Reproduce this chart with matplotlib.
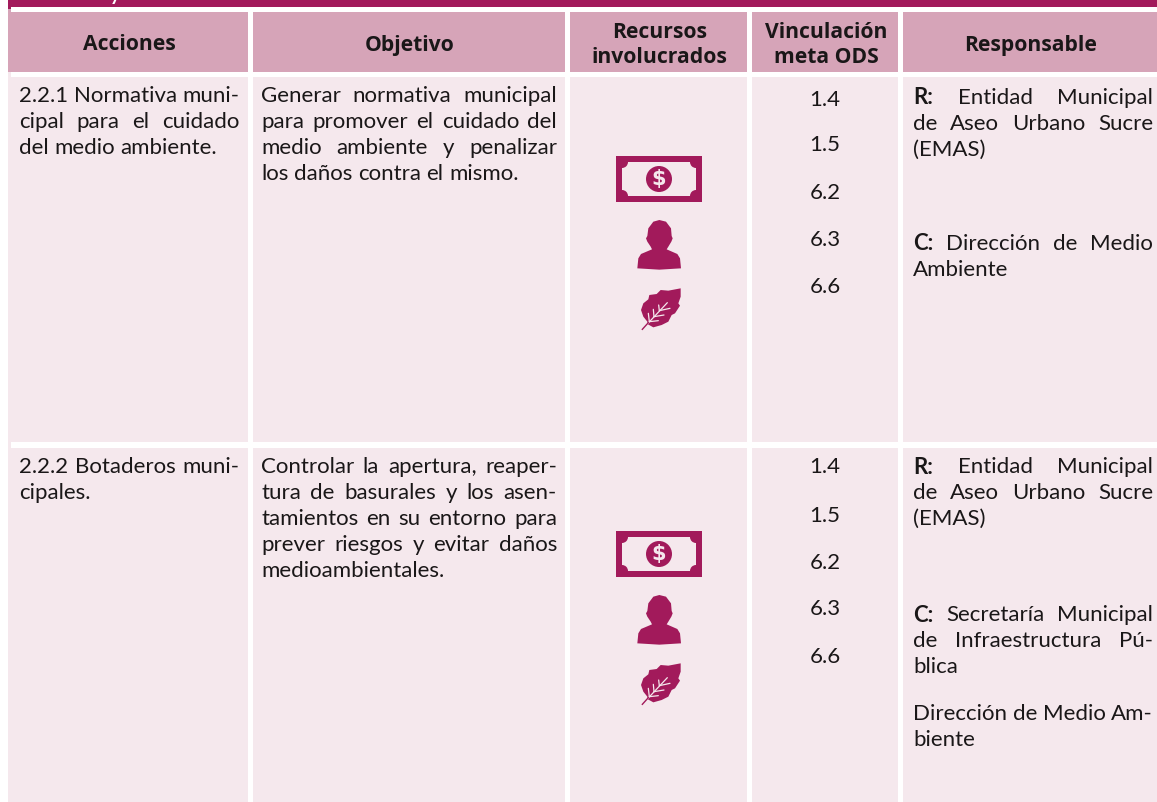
import matplotlib
matplotlib.use("Agg")
import matplotlib.pyplot as plt
from matplotlib.patches import Rectangle, Circle, Polygon

W, H = 1157, 802
MAGENTA = "#a21a5b"
HEAD = "#d6a4b8"
BODY = "#f5e8ed"
INK = "#1a1718"
FONT = "Lato"
FS = 16

headers = ["Acciones", "Objetivo", "Recursos\ninvolucrados", "Vinculación\nmeta ODS", "Responsable"]
col_left = [8, 253, 570, 752, 903]
col_right = [248, 565, 747, 898, 1157]

metas = ["1.4", "1.5", "6.2", "6.3", "6.6"]
metas_y_1 = [100, 145, 193, 240, 287]
metas_y_2 = [467, 516, 563, 609, 657]

accion_1 = ["2.2.1 Normativa muni-", "cipal para el cuidado", "del medio ambiente."]
accion_2 = ["2.2.2 Botaderos muni-", "cipales."]
objetivo_1 = ["Generar normativa municipal", "para promover el cuidado del",
              "medio ambiente y penalizar", "los daños contra el mismo."]
objetivo_2 = ["Controlar la apertura, reaper-", "tura de basurales y los asen-",
              "tamientos en su entorno para", "prever riesgos y evitar daños",
              "medioambientales."]

# icon outlines, traced at 3x around the first row
person_outline = [(175, 265), (190, 245), (208, 240), (228, 245), (243, 265), (245, 288), (248, 295), (244, 305),
                  (235, 320), (230, 328), (262, 342), (270, 355), (273, 385), (208, 389), (142, 385), (145, 355),
                  (153, 342), (186, 328), (182, 320), (172, 305), (168, 295), (172, 288)]
leaf_outline = [(172, 545), (160, 530), (153, 510), (160, 490), (175, 478), (178, 465), (200, 462), (212, 450),
                (235, 452), (272, 445), (272, 470), (265, 490), (270, 497), (255, 520), (245, 525), (235, 545),
                (215, 555), (190, 562), (172, 552)]
leaf_veins = [((157, 568), (232, 488)), ((178, 545), (175, 520)), ((192, 530), (190, 508)), ((208, 512), (206, 495)),
              ((178, 545), (205, 542)), ((192, 530), (222, 525)), ((208, 512), (240, 505))]

fig = plt.figure(figsize=(W / 100, H / 100), dpi=100, facecolor="white")
ax = fig.add_axes([0, 0, 1, 1])
ax.set_xlim(0, W)
ax.set_ylim(H, 0)
ax.axis("off")
renderer = fig.canvas.get_renderer()


def line(x0, x1, y, s, justify=False, bold_first=False):
    # one line of text, words spread out to x1 when justified
    words = s.split(" ")
    items = []
    for i, w in enumerate(words):
        items.append(ax.text(x0, y, w, fontsize=FS, family=FONT, color=INK, va="center", ha="left",
                             fontweight="bold" if (bold_first and i == 0) else "normal"))
    widths = [t.get_window_extent(renderer).width for t in items]
    space = FS * 0.25 * 100 / 72
    if justify and len(words) > 1:
        space = (x1 - x0 - sum(widths)) / (len(words) - 1)
    x = x0
    for t, w in zip(items, widths):
        t.set_x(x)
        x += w + space


def block(x0, x1, y, lines, step=26):
    for i, s in enumerate(lines):
        line(x0, x1, y + i * step, s, justify=i < len(lines) - 1)


def traced(pts, dy):
    return [(590 + x / 3, 140 + y / 3 + dy) for x, y in pts]


def money(dy):
    cx, cy = 659, 179 + dy
    ax.add_patch(Rectangle((cx - 43, cy - 23), 86, 46, color=MAGENTA, lw=0))
    ax.add_patch(Rectangle((cx - 37, cy - 17), 74, 34, color=BODY, lw=0))
    for sx in (-37, 37):
        for sy in (-17, 17):
            ax.add_patch(Circle((cx + sx, cy + sy), 6, color=MAGENTA, lw=0))
    ax.add_patch(Circle((cx, cy), 13, color=MAGENTA, lw=0))
    ax.text(cx, cy, "$", fontsize=15, fontweight="bold", family="DejaVu Sans", color=BODY, ha="center", va="center")


def person(dy):
    ax.add_patch(Polygon(traced(person_outline, dy), closed=True, color=MAGENTA, lw=0))


def leaf(dy):
    ax.add_patch(Polygon(traced(leaf_outline, dy), closed=True, color=MAGENTA, lw=0))
    for a, b in leaf_veins:
        p = traced([a, b], dy)
        ax.plot([p[0][0], p[1][0]], [p[0][1], p[1][1]], color=BODY, lw=0.9, solid_capstyle="round")
    p = traced([(157, 568), (175, 548)], dy)
    ax.plot([p[0][0], p[1][0]], [p[0][1], p[1][1]], color=MAGENTA, lw=1)


# top band with the foot of the cut-off title
ax.add_patch(Rectangle((8, 0), W - 8, 7, color=MAGENTA, lw=0))
ax.add_patch(Rectangle((8, 7), 3, 2, color=MAGENTA, lw=0))
ax.add_patch(Rectangle((8, 9), 3, 3, color=HEAD, lw=0))
ax.text(115, 3.5, "y", fontsize=14, fontweight="bold", family=FONT, color="white", ha="center", va="bottom")

# cells
for x0, x1, h in zip(col_left, col_right, headers):
    ax.add_patch(Rectangle((x0, 12), x1 - x0, 60, color=HEAD, lw=0))
    ax.add_patch(Rectangle((x0, 77), x1 - x0, 365, color=BODY, lw=0))
    ax.add_patch(Rectangle((x0, 448), x1 - x0, H - 448, color=BODY, lw=0))
    ax.text((x0 + x1) / 2 + 1, 45, h, fontsize=15.2, fontweight="bold", family="Open Sans", color=INK,
            ha="center", va="center", linespacing=1.2)
for y0, y1, c in [(72, 77, BODY), (442, 448, BODY)]:
    ax.add_patch(Rectangle((8, y0), 3, y1 - y0, color=c, lw=0))

block(19, 239, 96, accion_1)
block(19, 239, 467, accion_2)
block(261, 557, 96, objetivo_1)
block(261, 557, 467, objetivo_2)

for y, s in zip(metas_y_1, metas):
    ax.text(825, y, s, fontsize=FS, family=FONT, color=INK, ha="center", va="center")
for y, s in zip(metas_y_2, metas):
    ax.text(825, y, s, fontsize=FS, family=FONT, color=INK, ha="center", va="center")

# responsable, first row
line(913, 1153, 98, "R: Entidad Municipal", justify=True, bold_first=True)
line(913, 1153, 124, "de Aseo Urbano Sucre", justify=True)
line(913, 1153, 150, "(EMAS)")
line(913, 1153, 244, "C: Dirección de Medio", justify=True, bold_first=True)
line(913, 1153, 270, "Ambiente")

# responsable, second row
line(913, 1153, 467, "R: Entidad Municipal", justify=True, bold_first=True)
line(913, 1153, 493, "de Aseo Urbano Sucre", justify=True)
line(913, 1153, 519, "(EMAS)")
line(913, 1153, 615, "C: Secretaría Municipal", justify=True, bold_first=True)
line(913, 1153, 641, "de Infraestructura Pú-", justify=True)
line(913, 1153, 667, "blica")
line(913, 1153, 714, "Dirección de Medio Am-", justify=True)
line(913, 1153, 740, "biente")

for dy in (0, 375):
    money(dy)
    person(dy)
    leaf(dy)

fig.savefig("out.png", dpi=100, facecolor="white")
